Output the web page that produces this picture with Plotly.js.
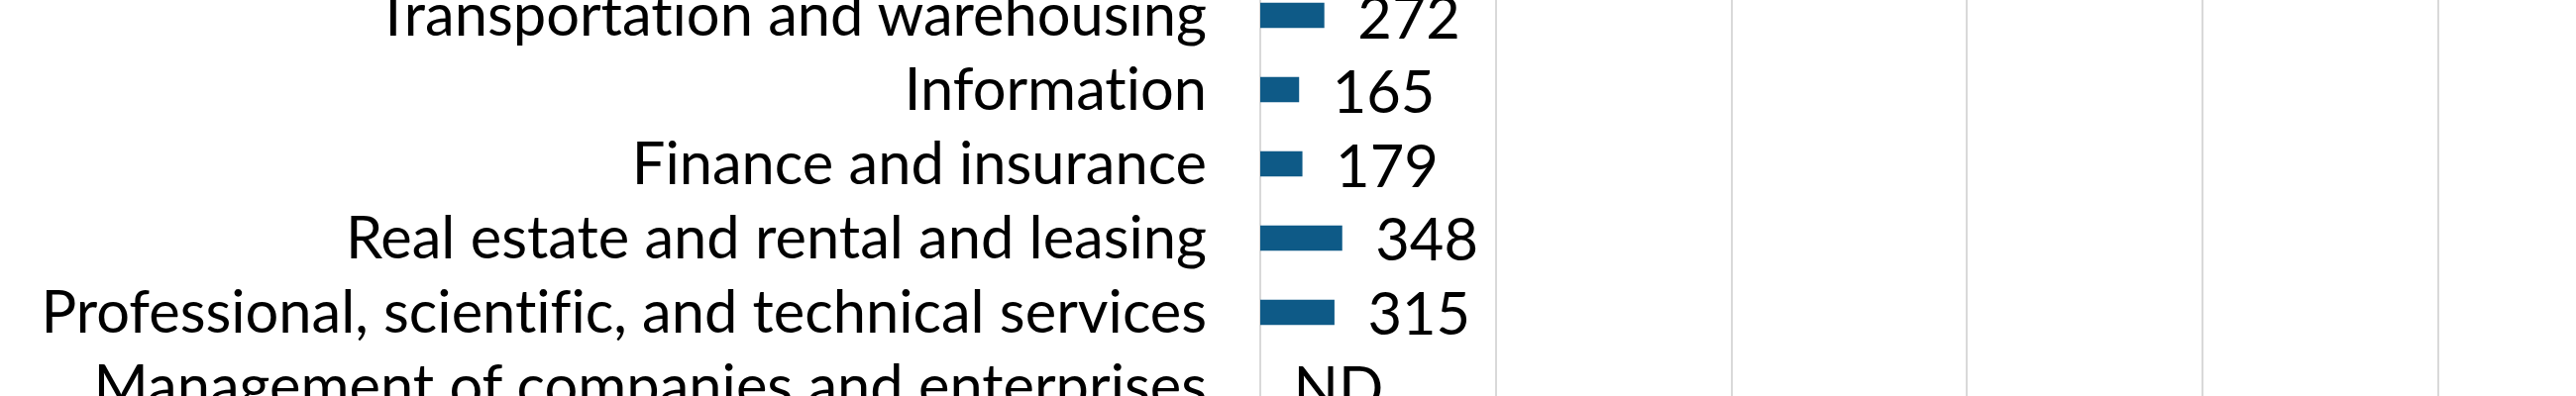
<!DOCTYPE html>
<html>
<head>
<meta charset="utf-8">
<script src="https://cdn.plot.ly/plotly-3.0.1.min.js"></script>
<style>html,body{margin:0;padding:0;background:#fff;}#chart{width:2600px;height:400px;}svg text{font-variant-ligatures:none;font-feature-settings:"liga" 0;}</style>
</head>
<body>
<div id="chart"></div>
<script>
const categories = [
  "Transportation and warehousing",
  "Information",
  "Finance and insurance",
  "Real estate and rental and leasing",
  "Professional, scientific, and technical services",
  "Management of companies and enterprises"
];
const values = [272, 165, 179, 348, 315, 0];
const valueLabels = ["272", "165", "179", "348", "315", "ND"];
const xTicks = [0, 1000, 2000, 3000, 4000, 5000];

const trace = {
  type: "bar",
  orientation: "h",
  y: categories,
  x: values,
  text: valueLabels,
  texttemplate: "\u00a0\u00a0%{text}",
  textposition: "outside",
  constraintext: "none",
  cliponaxis: false,
  textfont: {family: "Lato", size: 59.6, color: "#000"},
  marker: {color: "#0e5a87"},
  width: 0.34,
  hoverinfo: "skip"
};

const layout = {
  width: 2600,
  height: 400,
  margin: {l: 1272, r: 0, t: 0, b: 0, pad: 0},
  paper_bgcolor: "#fff",
  plot_bgcolor: "#fff",
  showlegend: false,
  font: {family: "Lato", size: 59.6, color: "#000"},
  xaxis: {
    range: [0, 5585],
    tickvals: xTicks,
    showticklabels: false,
    showgrid: true,
    gridcolor: "#d9d9d9",
    gridwidth: 2,
    zeroline: true,
    zerolinecolor: "#d9d9d9",
    zerolinewidth: 2,
    showline: false
  },
  yaxis: {
    type: "category",
    categoryorder: "array",
    categoryarray: categories,
    range: [5.127, -0.207],
    showgrid: false,
    zeroline: false,
    showline: false,
    ticks: "outside",
    ticklen: 41,
    tickcolor: "rgba(0,0,0,0)",
    tickfont: {family: "Lato", size: 59.6, color: "#000"}
  }
};

Plotly.newPlot("chart", [trace], layout, {displayModeBar: false, staticPlot: true});
</script>
</body>
</html>
